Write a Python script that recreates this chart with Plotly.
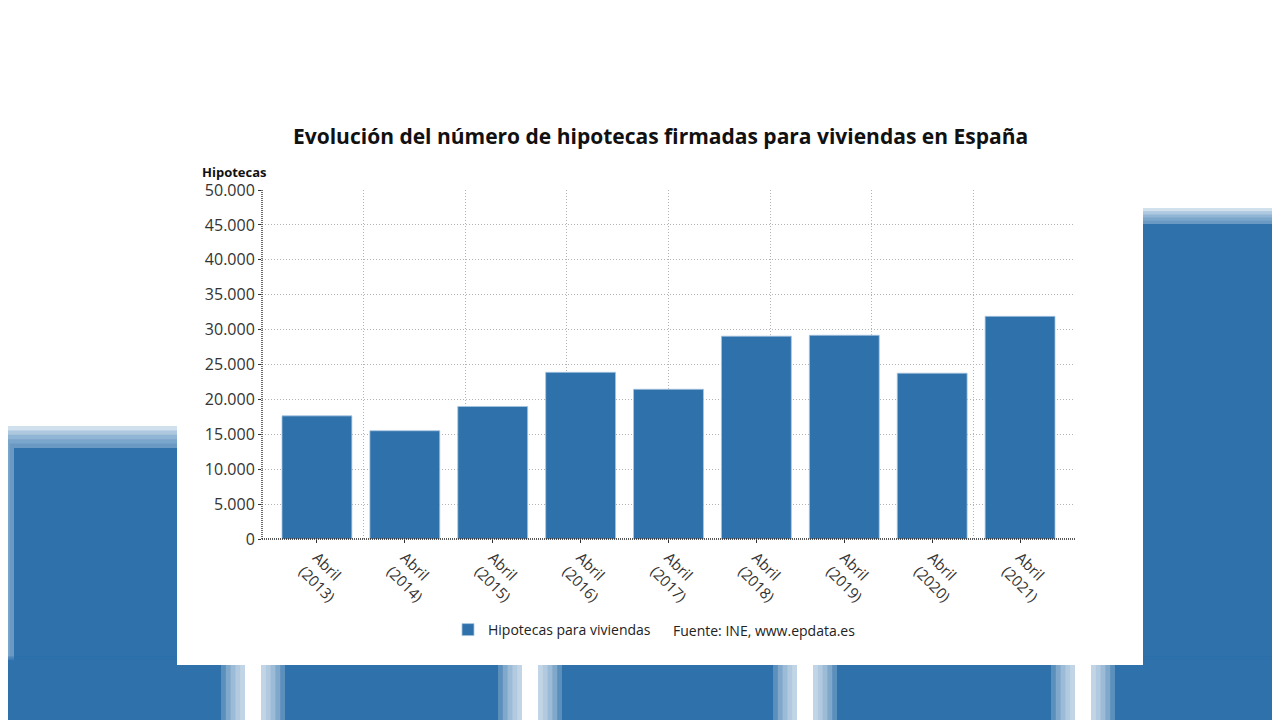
import plotly.graph_objects as go

# data
periodos = ["Abril<br>(2013)", "Abril<br>(2014)", "Abril<br>(2015)", "Abril<br>(2016)",
            "Abril<br>(2017)", "Abril<br>(2018)", "Abril<br>(2019)", "Abril<br>(2020)",
            "Abril<br>(2021)"]
hipotecas = [17640, 15510, 18990, 23880, 21450, 29060, 29190, 23760, 31900]
y_ticks = [0, 5000, 10000, 15000, 20000, 25000, 30000, 35000, 40000, 45000, 50000]

W, H = 1280, 720
OFF = 8  # page body margin
BLUE = "#2e71ab"
FONT = "Open Sans, Noto Sans, sans-serif"


def px(x):
    return (x - OFF) / W


def py(y):
    return 1 - (y - OFF) / H


def soft_rect(shapes, x0, y0, x1, y1, color, fade=14, steps=5):
    # core rect plus a few wider translucent ones to fake the blur
    for k in range(steps, 0, -1):
        d = fade * k / steps
        shapes.append(dict(type="rect", xref="paper", yref="paper", layer="below",
                           x0=px(x0 - d), x1=px(x1 + d), y0=py(y1 + d), y1=py(y0 - d),
                           fillcolor=color, opacity=0.22, line_width=0))
    shapes.append(dict(type="rect", xref="paper", yref="paper", layer="below",
                       x0=px(x0), x1=px(x1), y0=py(y1), y1=py(y0),
                       fillcolor=color, line_width=0))


shapes = []
# blurred background around the card
soft_rect(shapes, 14, 448, 200, 760, BLUE, fade=22)
soft_rect(shapes, 1130, 224, 1320, 760, BLUE, fade=16)
soft_rect(shapes, -20, 660, 1320, 760, BLUE, fade=4)
for cx in [253, 530, 805, 1083]:
    soft_rect(shapes, cx - 8, 650, cx + 8, 760, "#ffffff", fade=24)
# white card
shapes.append(dict(type="rect", xref="paper", yref="paper", layer="below",
                   x0=px(177), x1=px(1143), y0=py(665), y1=py(98),
                   fillcolor="white", line_width=0))

X0, X1, Y0, Y1 = 262, 1075, 539, 190
# dotted axis lines
shapes.append(dict(type="line", xref="paper", yref="paper", layer="above",
                   x0=px(X0), x1=px(X1), y0=py(Y0), y1=py(Y0),
                   line=dict(color="#222222", width=1.3, dash="1px,1px")))
shapes.append(dict(type="line", xref="paper", yref="paper", layer="above",
                   x0=px(X0), x1=px(X0), y0=py(Y0), y1=py(Y1),
                   line=dict(color="#222222", width=1.3, dash="1px,1px")))

fig = go.Figure()
fig.add_trace(go.Bar(
    x=periodos, y=hipotecas, name="Hipotecas para viviendas",
    marker=dict(color=BLUE, line=dict(color="#a8c5df", width=0.8)),
    hovertemplate="%{x}: %{y:,d}<extra></extra>"
))
# invisible trace to carry the 8-division vertical grid
fig.add_trace(go.Scatter(x=[0, 8], y=[0, 0], xaxis="x2", mode="markers",
                         marker=dict(opacity=0), showlegend=False, hoverinfo="skip"))

fig.update_layout(
    width=W, height=H,
    margin=dict(l=0, r=0, t=0, b=0, autoexpand=False),
    paper_bgcolor="white", plot_bgcolor="rgba(0,0,0,0)",
    font=dict(family=FONT, size=16, color="#333333"),
    separators=",.",
    bargap=0.205,
    showlegend=True,
    legend=dict(orientation="h", x=px(448), y=py(630), xanchor="left", yanchor="middle",
                font=dict(size=14, color="#222222"), bgcolor="rgba(0,0,0,0)",
                itemwidth=30),
    xaxis=dict(domain=[px(X0), px(X1)], range=[-0.625, 8.625], type="category",
               showgrid=False, showline=False, zeroline=False, automargin=False,
               ticks="outside", ticklen=3, tickcolor="#333333",
               tickangle=45, tickfont=dict(size=15, color="#333333")),
    xaxis2=dict(domain=[px(X0), px(X1)], range=[0, 8], overlaying="x", anchor="y",
                showgrid=True, griddash="1px,2px", gridcolor="#b4b4b4", gridwidth=1,
                dtick=1, showticklabels=False, zeroline=False, showline=False,
                automargin=False),
    yaxis=dict(domain=[py(Y0), py(Y1)], range=[0, 50000], tickvals=y_ticks,
               tickformat=",d", showgrid=True, griddash="1px,2px", gridcolor="#b4b4b4",
               zeroline=False, showline=False, ticks="outside", ticklen=3,
               tickcolor="#333333", automargin=False,
               tickfont=dict(size=16, color="#333333")),
    shapes=shapes,
    annotations=[
        dict(text="<b>Evolución del número de hipotecas firmadas para viviendas en España</b>",
             x=px(660), y=py(136), xref="paper", yref="paper", showarrow=False,
             xanchor="center", yanchor="middle", font=dict(size=21, color="#111111")),
        dict(text="<b>Hipotecas</b>", x=px(200), y=py(172), xref="paper", yref="paper",
             showarrow=False, xanchor="left", yanchor="middle",
             font=dict(size=13, color="#111111")),
        dict(text="Fuente: INE, www.epdata.es", x=px(671), y=py(630), xref="paper",
             yref="paper", showarrow=False, xanchor="left", yanchor="middle",
             font=dict(size=14, color="#222222")),
    ],
)

fig.write_html("out.html")
